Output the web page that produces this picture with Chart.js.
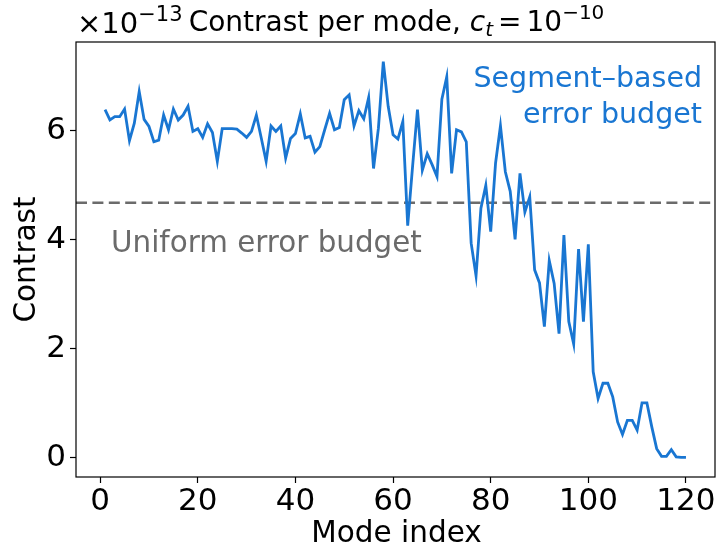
<!DOCTYPE html>
<html>
<head>
<meta charset="utf-8">
<script src="https://cdn.jsdelivr.net/npm/chart.js@4.4.1/dist/chart.umd.min.js"></script>
<style>
  html, body { margin: 0; padding: 0; background: #fff; }
  canvas { display: block; }
</style>
</head>
<body>
<canvas id="contrastChart" width="717" height="550"></canvas>
<script>
// Contrast per mode (units of 1e-13), modes 1..120
const contrast = [
  6.39, 6.20, 6.26, 6.26, 6.40, 5.82, 6.14, 6.72, 6.21, 6.08,
  5.80, 5.83, 6.29, 6.02, 6.40, 6.20, 6.29, 6.45, 5.99, 6.04,
  5.88, 6.13, 5.97, 5.44, 6.04, 6.04, 6.04, 6.03, 5.96, 5.88,
  5.99, 6.29, 5.87, 5.44, 6.09, 5.99, 6.09, 5.50, 5.86, 5.95,
  6.31, 5.87, 5.90, 5.61, 5.71, 6.02, 6.32, 6.02, 6.06, 6.57,
  6.66, 6.09, 6.37, 6.22, 6.61, 5.31, 6.05, 7.27, 6.45, 5.93,
  5.85, 6.17, 4.26, 5.35, 6.39, 5.28, 5.58, 5.38, 5.16, 6.58,
  6.99, 5.22, 6.02, 5.98, 5.80, 3.94, 3.34, 4.58, 5.00, 4.15,
  5.41, 6.09, 5.25, 4.89, 4.01, 5.22, 4.51, 4.79, 3.45, 3.21,
  2.41, 3.62, 3.20, 2.28, 4.09, 2.50, 2.09, 3.83, 2.50, 3.92,
  1.58, 1.09, 1.37, 1.37, 1.12, 0.66, 0.43, 0.69, 0.69, 0.51,
  1.01, 1.01, 0.57, 0.17, 0.03, 0.03, 0.15, 0.02, 0.01, 0.01
];
const modeIndex = contrast.map((_, i) => i + 1);

// Uniform error budget level (same units)
const uniformBudget = 4.68;

const xTicks = [0, 20, 40, 60, 80, 100, 120];
const yTicks = [0, 2, 4, 6];
const xRange = [-4.95, 125.95];
const yRange = [-0.35, 7.63];

const BLUE = '#1976d2';
const GREY = '#6b6b6b';
const FONT = '"DejaVu Sans", sans-serif';

// Draws a row of text runs (used for the mathtext-like pieces)
function drawRuns(ctx, runs, x, y, align) {
  let total = 0;
  runs.forEach(r => {
    ctx.font = `${r.italic ? 'italic ' : ''}${r.size}px ${FONT}`;
    r.w = ctx.measureText(r.text).width + (r.gap || 0);
    total += r.w;
  });
  let cx = align === 'center' ? x - total / 2 : x;
  runs.forEach(r => {
    ctx.font = `${r.italic ? 'italic ' : ''}${r.size}px ${FONT}`;
    ctx.fillText(r.text, cx + (r.pre || 0), y + (r.dy || 0));
    cx += r.w;
  });
}

const decorPlugin = {
  id: 'decor',
  afterDraw(chart) {
    const { ctx, chartArea: { left, top, right, bottom } } = chart;
    ctx.save();

    // axes box
    ctx.strokeStyle = '#000';
    ctx.lineWidth = 1.2;
    ctx.strokeRect(left, top, right - left, bottom - top);

    ctx.fillStyle = '#000';
    ctx.textAlign = 'left';
    ctx.textBaseline = 'alphabetic';

    // offset text of the y axis
    drawRuns(ctx, [
      { text: '\u00d7', size: 29 },
      { text: '10', size: 29 },
      { text: '\u221213', size: 21, dy: -12 }
    ], left + 1, 33, 'left');

    // title
    drawRuns(ctx, [
      { text: 'Contrast per mode, ', size: 28 },
      { text: 'c', size: 28, italic: true },
      { text: 't', size: 20, italic: true, dy: 5, gap: 5 },
      { text: '=', size: 28, gap: 5 },
      { text: '10', size: 28 },
      { text: '\u221210', size: 20, dy: -12 }
    ], (left + right) / 2 + 1, 31, 'center');

    // axis titles
    ctx.font = `29.5px ${FONT}`;
    ctx.textAlign = 'center';
    ctx.fillText('Mode index', (left + right) / 2 + 1, 542);
    ctx.save();
    ctx.translate(35, (top + bottom) / 2);
    ctx.rotate(-Math.PI / 2);
    ctx.fillText('Contrast', 0, 0);
    ctx.restore();

    // annotations
    ctx.font = `28.5px ${FONT}`;
    ctx.fillStyle = BLUE;
    ctx.textAlign = 'right';
    ctx.fillText('Segment\u2013based', right - 13, 87);
    ctx.fillText('error budget', right - 13, 123);

    ctx.font = `29.4px ${FONT}`;
    ctx.fillStyle = GREY;
    ctx.textAlign = 'left';
    ctx.fillText('Uniform error budget', 111, 252);

    ctx.restore();
  }
};

const tickGrid = {
  display: true,
  drawOnChartArea: false,
  drawTicks: true,
  tickLength: 6,
  tickWidth: 1.2,
  color: '#000'
};

new Chart(document.getElementById('contrastChart').getContext('2d'), {
  type: 'line',
  data: {
    datasets: [
      {
        data: modeIndex.map((m, i) => ({ x: m, y: contrast[i] })),
        borderColor: BLUE,
        borderWidth: 2.8,
        pointRadius: 0,
        tension: 0,
        fill: false
      },
      {
        data: xRange.map(x => ({ x, y: uniformBudget })),
        borderColor: GREY,
        borderWidth: 2.6,
        borderDash: [11, 5.4],
        pointRadius: 0,
        fill: false
      }
    ]
  },
  options: {
    responsive: false,
    animation: false,
    devicePixelRatio: 1,
    layout: { padding: { left: 0, top: 42, right: 2, bottom: 0 } },
    plugins: {
      legend: { display: false },
      tooltip: { enabled: false }
    },
    scales: {
      x: {
        type: 'linear',
        min: xRange[0],
        max: xRange[1],
        afterBuildTicks: s => { s.ticks = xTicks.map(v => ({ value: v })); },
        afterFit: s => { s.height = 73; },
        grid: tickGrid,
        border: { display: false },
        ticks: { color: '#000', font: { family: FONT, size: 31 }, padding: 0, maxRotation: 0 }
      },
      y: {
        type: 'linear',
        min: yRange[0],
        max: yRange[1],
        afterBuildTicks: s => { s.ticks = yTicks.map(v => ({ value: v })); },
        afterFit: s => { s.width = 76; },
        grid: tickGrid,
        border: { display: false },
        ticks: { color: '#000', font: { family: FONT, size: 31 }, padding: 4 }
      }
    }
  },
  plugins: [decorPlugin]
});
</script>
</body>
</html>
